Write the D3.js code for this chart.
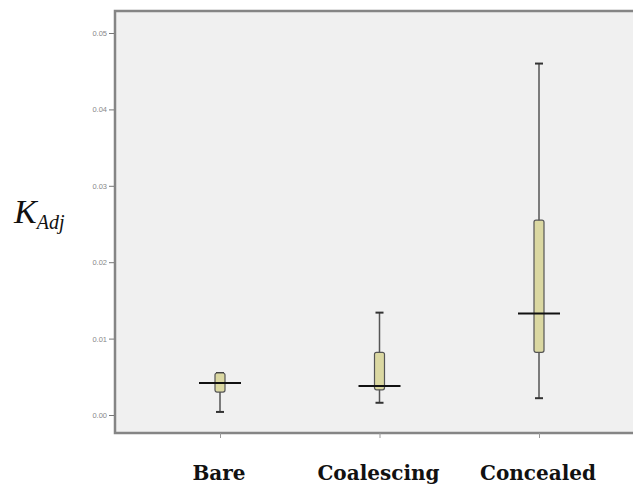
<!DOCTYPE html>
<html>
<head>
<meta charset="utf-8">
<script src="https://cdn.jsdelivr.net/npm/d3@7"></script>
<style>
  body { margin: 0; background: #fff; }
  svg { display: block; }
</style>
</head>
<body>
<div id="chart"></div>
<script>
// groups and box statistics
const groups = ["Bare", "Coalescing", "Concealed"];
const whiskerLow = [0.0004, 0.0016, 0.0022];
const q1 = [0.0030, 0.0033, 0.0082];
const medians = [0.0042, 0.0038, 0.0133];
const q3 = [0.0055, 0.0082, 0.0255];
const whiskerHigh = [0.0055, 0.0134, 0.0460];
const yTicks = [0.00, 0.01, 0.02, 0.03, 0.04, 0.05];

const data = groups.map((g, i) => ({
    name: g, lo: whiskerLow[i], q1: q1[i], med: medians[i], q3: q3[i], hi: whiskerHigh[i]
}));

const width = 633, height = 488;
const frame = {left: 115, top: 11, right: 640, bottom: 433};

const svg = d3.select("#chart").append("svg")
    .attr("width", width)
    .attr("height", height);

// plot background
svg.append("rect")
    .attr("x", frame.left)
    .attr("y", frame.top)
    .attr("width", frame.right - frame.left)
    .attr("height", frame.bottom - frame.top)
    .attr("fill", "#f0f0f0")
    .attr("stroke", "#858585")
    .attr("stroke-width", 2.5);

// scales
const y = d3.scaleLinear()
    .domain([0, 0.05])
    .range([415, 33]);

const x = d3.scalePoint()
    .domain(groups)
    .range([220, 539]);

// y axis
const yAxis = d3.axisLeft(y)
    .tickValues(yTicks)
    .tickFormat(d3.format(".2f"))
    .tickSize(5)
    .tickPadding(2);

const gy = svg.append("g")
    .attr("transform", `translate(${frame.left - 1},0)`)
    .call(yAxis);
gy.select(".domain").remove();
gy.selectAll(".tick line").attr("stroke", "#777");
gy.selectAll(".tick text")
    .attr("fill", "#888")
    .style("font-family", "Arial, 'Liberation Sans', sans-serif")
    .style("font-size", "7.5px");

// x axis
const xAxis = d3.axisBottom(x).tickSize(5).tickFormat("");
const gx = svg.append("g")
    .attr("transform", `translate(0,${frame.bottom})`)
    .call(xAxis);
gx.select(".domain").remove();
gx.selectAll(".tick line").attr("stroke", "#999");

// category labels
svg.append("g").selectAll("text")
    .data(groups)
    .join("text")
    .attr("x", d => x(d) - 1)
    .attr("y", 480)
    .attr("text-anchor", "middle")
    .style("font-family", "'DejaVu Serif', serif")
    .style("font-weight", "bold")
    .style("font-size", "20px")
    .attr("fill", "#111")
    .text(d => d);

// boxes
const boxW = 10, medW = 42, capW = 8;
const box = svg.append("g").selectAll("g")
    .data(data)
    .join("g")
    .attr("transform", d => `translate(${x(d.name)},0)`);

box.append("line")
    .attr("x1", 0).attr("x2", 0)
    .attr("y1", d => y(d.hi))
    .attr("y2", d => y(d.lo))
    .attr("stroke", "#555")
    .attr("stroke-width", 1.5);

box.append("line")
    .attr("x1", -capW / 2).attr("x2", capW / 2)
    .attr("y1", d => y(d.hi)).attr("y2", d => y(d.hi))
    .attr("stroke", "#333")
    .attr("stroke-width", 2);

box.append("line")
    .attr("x1", -capW / 2).attr("x2", capW / 2)
    .attr("y1", d => y(d.lo)).attr("y2", d => y(d.lo))
    .attr("stroke", "#333")
    .attr("stroke-width", 2);

box.append("rect")
    .attr("x", -boxW / 2)
    .attr("width", boxW)
    .attr("y", d => y(d.q3))
    .attr("height", d => y(d.q1) - y(d.q3))
    .attr("rx", 2)
    .attr("fill", "#dbd8a2")
    .attr("stroke", "#555")
    .attr("stroke-width", 1.2);

box.append("line")
    .attr("x1", -medW / 2).attr("x2", medW / 2)
    .attr("y1", d => y(d.med)).attr("y2", d => y(d.med))
    .attr("stroke", "#111")
    .attr("stroke-width", 2);

// y label K_Adj
const lab = svg.append("text")
    .attr("x", 14)
    .attr("y", 223)
    .style("font-family", "'Liberation Serif', 'Times New Roman', serif")
    .style("font-style", "italic")
    .attr("fill", "#111");
lab.append("tspan")
    .style("font-size", "34px")
    .text("K");
lab.append("tspan")
    .attr("dy", 6)
    .style("font-size", "20px")
    .text("Adj");
</script>
</body>
</html>
